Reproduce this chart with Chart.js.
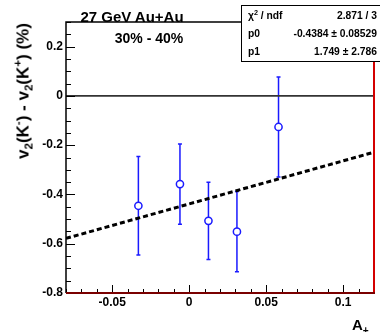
<!DOCTYPE html>
<html>
<head>
<meta charset="utf-8">
<script src="https://cdn.jsdelivr.net/npm/chart.js@4.4.1/dist/chart.umd.min.js"></script>
<style>
  html, body { margin: 0; padding: 0; background: #fff; overflow: hidden; }
  #wrap { position: relative; width: 380px; height: 332px; font-family: "Liberation Sans", Arial, sans-serif; font-weight: bold; color: #000; }
  #wrap canvas { position: absolute; left: 0; top: 0; }
  .txt { position: absolute; white-space: nowrap; line-height: 1; }
  .txt sub, .txt sup { font-size: 68%; line-height: 0; }
  #ytitle { left: 23px; top: 91px; font-size: 17px; transform: translate(-50%, -50%) rotate(-90deg); }
  #title { left: 132px; top: 16px; font-size: 15px; transform: translate(-50%, -50%); }
  #subtitle { left: 149px; top: 38px; font-size: 14px; transform: translate(-50%, -50%); }
  #xtitle { left: 352px; top: 317px; font-size: 15px; }
  #stats { position: absolute; left: 241px; top: 5px; width: 150px; height: 55px; border: 1px solid #000; background: #fff; font-size: 10.3px; }
  #stats .row { position: absolute; left: 6px; width: 129px; height: 12px; }
  #stats .k { position: absolute; left: 0; top: 0; }
  #stats .v { position: absolute; right: 0; top: 0; }
  #stats sup { font-size: 70%; vertical-align: 4px; line-height: 0; }
</style>
</head>
<body>
<div id="wrap">
  <canvas id="c" width="380" height="332"></canvas>
  <div class="txt" id="title">27 GeV Au+Au</div>
  <div class="txt" id="subtitle">30% - 40%</div>
  <div class="txt" id="ytitle">v<sub>2</sub>(K<sup>-</sup>) - v<sub>2</sub>(K<sup>+</sup>) (%)</div>
  <div class="txt" id="xtitle">A<sub>+</sub></div>
  <div id="stats"></div>
</div>
<script>
// measured points
const xVals = [-0.033, -0.006, 0.0125, 0.031, 0.058];
const yVals = [-0.446, -0.358, -0.507, -0.551, -0.126];
const yErrs = [0.200, 0.163, 0.157, 0.163, 0.203];

// linear fit pol1: p0 + p1*x
const fitParams = [-0.4384, 1.749];
const fitErrors = [0.08529, 2.786];
const chi2 = 2.871, ndf = 3;

const xRange = [-0.08, 0.12];
const yRange = [-0.8, 0.3];
const xTicks = [-0.05, 0, 0.05, 0.1];
const yTicks = [-0.8, -0.6, -0.4, -0.2, 0, 0.2];
const xMinorStep = 0.01, yMinorStep = 0.05;

const FONT = '"Liberation Sans", Arial, sans-serif';
const BLUE = '#1a1aff';

// stats box
const statRows = [
  ['χ<sup>2</sup> / ndf', chi2 + ' / ' + ndf],
  ['p0', fitParams[0] + ' ± ' + fitErrors[0]],
  ['p1', fitParams[1] + ' ± ' + fitErrors[1]]
];
const stats = document.getElementById('stats');
statRows.forEach((r, i) => {
  const row = document.createElement('div');
  row.className = 'row';
  row.style.top = (4 + i * 18) + 'px';
  row.innerHTML = '<span class="k">' + r[0] + '</span><span class="v">' + r[1] + '</span>';
  stats.appendChild(row);
});

const fitY = x => fitParams[0] + fitParams[1] * x;
const isMajor = (v, list) => list.some(t => Math.abs(t - v) < 1e-6);

// vertical error bars, drawn under the markers
const errorBars = {
  id: 'errorBars',
  beforeDatasetsDraw(chart) {
    const { ctx, scales: { x, y } } = chart;
    ctx.save();
    ctx.strokeStyle = BLUE;
    ctx.lineWidth = 1.5;
    xVals.forEach((xv, i) => {
      const px = x.getPixelForValue(xv);
      const top = y.getPixelForValue(yVals[i] + yErrs[i]);
      const bot = y.getPixelForValue(yVals[i] - yErrs[i]);
      ctx.beginPath();
      ctx.moveTo(px, top); ctx.lineTo(px, bot);
      ctx.moveTo(px - 2, top); ctx.lineTo(px + 2, top);
      ctx.moveTo(px - 2, bot); ctx.lineTo(px + 2, bot);
      ctx.stroke();
    });
    ctx.restore();
  }
};

// frame plus inward major/minor ticks
const frame = {
  id: 'frame',
  afterDatasetsDraw(chart) {
    const { ctx, chartArea: a, scales: { x, y } } = chart;
    ctx.save();
    ctx.lineWidth = 1;
    ctx.strokeStyle = '#000';
    ctx.beginPath();
    for (let i = 0; ; i++) {
      const v = yRange[0] + i * yMinorStep;
      if (v > yRange[1] + 1e-9) break;
      const py = Math.round(y.getPixelForValue(v)) + 0.5;
      ctx.moveTo(a.left, py); ctx.lineTo(a.left + (isMajor(v, yTicks) ? 9 : 5), py);
    }
    for (let i = 0; ; i++) {
      const v = xRange[0] + i * xMinorStep;
      if (v > xRange[1] + 1e-9) break;
      const px = Math.round(x.getPixelForValue(v)) + 0.5;
      ctx.moveTo(px, a.bottom); ctx.lineTo(px, a.bottom - (isMajor(v, xTicks) ? 8 : 4));
    }
    ctx.stroke();

    ctx.lineWidth = 1.5;
    ctx.beginPath();
    ctx.moveTo(a.left, a.bottom); ctx.lineTo(a.left, a.top); ctx.lineTo(a.right, a.top);
    ctx.stroke();
    ctx.lineWidth = 2;
    ctx.strokeStyle = '#d40000';
    ctx.beginPath();
    ctx.moveTo(a.right, a.top); ctx.lineTo(a.right, a.bottom);
    ctx.stroke();
    ctx.strokeStyle = '#7a0000';
    ctx.beginPath();
    ctx.moveTo(a.left, a.bottom); ctx.lineTo(a.right + 1, a.bottom);
    ctx.stroke();
    ctx.restore();
  }
};

const fmt = v => Math.abs(v) < 1e-9 ? '0' : String(+v.toFixed(3));

new Chart(document.getElementById('c'), {
  type: 'scatter',
  data: {
    datasets: [
      {
        label: 'data',
        data: xVals.map((xv, i) => ({ x: xv, y: yVals[i] })),
        pointStyle: 'circle',
        pointRadius: 3.6,
        pointBackgroundColor: '#fff',
        pointBorderColor: BLUE,
        pointBorderWidth: 1.5
      },
      {
        label: 'fit',
        type: 'line',
        data: xRange.map(xv => ({ x: xv, y: fitY(xv) })),
        borderColor: '#000',
        borderWidth: 3,
        borderDash: [5, 3],
        pointRadius: 0
      },
      {
        label: 'zero',
        type: 'line',
        data: xRange.map(xv => ({ x: xv, y: 0 })),
        borderColor: '#333',
        borderWidth: 1.6,
        pointRadius: 0
      }
    ]
  },
  options: {
    responsive: false,
    animation: false,
    events: [],
    layout: { padding: { top: 22, right: 6, left: 0, bottom: 0 } },
    plugins: { legend: { display: false }, tooltip: { enabled: false } },
    scales: {
      x: {
        type: 'linear',
        min: xRange[0],
        max: xRange[1],
        grid: { display: false, drawTicks: false },
        border: { display: false },
        afterBuildTicks: s => { s.ticks = xTicks.map(v => ({ value: v })); },
        afterFit: s => { s.height = 39; },
        ticks: {
          autoSkip: false,
          maxRotation: 0,
          padding: 2,
          color: '#000',
          font: { family: FONT, size: 12, weight: 'bold' },
          callback: fmt
        }
      },
      y: {
        type: 'linear',
        min: yRange[0],
        max: yRange[1],
        grid: { display: false, drawTicks: false },
        border: { display: false },
        afterBuildTicks: s => { s.ticks = yTicks.map(v => ({ value: v })); },
        afterFit: s => { s.width = 66; },
        ticks: {
          autoSkip: false,
          padding: 3,
          color: '#000',
          font: { family: FONT, size: 12, weight: 'bold' },
          callback: fmt
        }
      }
    }
  },
  plugins: [errorBars, frame]
});
</script>
</body>
</html>
